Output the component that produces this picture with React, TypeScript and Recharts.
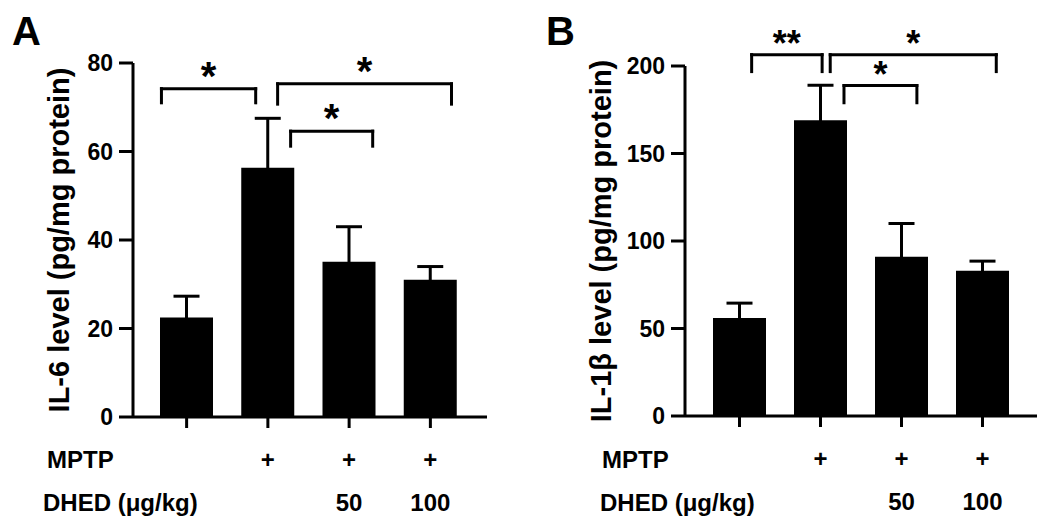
import React from 'react';
import { BarChart, Bar, XAxis, YAxis, ErrorBar, ReferenceLine } from 'recharts';

const groups = ['Control', 'MPTP', 'MPTP + DHED 50', 'MPTP + DHED 100'];
const mptpRow = ['', '+', '+', '+'];
const dhedRow = ['', '', '50', '100'];

const il6Mean = [22.5, 56.3, 35.1, 31];
const il6Err = [4.8, 11.2, 7.9, 3];
const il6Ticks = [0, 20, 40, 60, 80];

const il1bMean = [56, 169, 91, 83];
const il1bErr = [8.5, 20, 19, 5.5];
const il1bTicks = [0, 50, 100, 150, 200];

// significance brackets: x in group index units (0 = centre of first group), y in data units
const il6Sig = [
  { from: -0.31, to: 0.85, top: 74.2, foot: 71, mark: '*' },
  { from: 1.12, to: 3.26, top: 75.3, foot: 70.7, mark: '*' },
  { from: 1.28, to: 2.29, top: 64.6, foot: 61.2, mark: '*' },
];
const il1bSig = [
  { from: 0.15, to: 1.02, top: 206.5, foot: 196.8, mark: '**' },
  { from: 1.12, to: 3.17, top: 206.5, foot: 196.8, mark: '*' },
  { from: 1.29, to: 2.19, top: 188.8, foot: 179, mark: '*' },
];

const FONT = '"Liberation Sans", Arial, sans-serif';

const GroupTick = (props: any) => {
  const { x, y, payload } = props;
  const i = groups.indexOf(payload.value);
  return (
    <g fontFamily={FONT} fontWeight={700} fontSize={24} fill="#000">
      <text x={x} y={y + 40} textAnchor="middle">{mptpRow[i]}</text>
      <text x={x} y={y + 83} textAnchor="middle">{dhedRow[i]}</text>
    </g>
  );
};

function Panel({ mean, err, ticks, sig, yLabel, width, margin, axisWidth, pad, labelX, starSize }: any) {
  const data = groups.map((g, i) => ({ group: g, idx: i, value: mean[i], err: err[i] }));
  const max = ticks[ticks.length - 1];
  // the hidden numeric axis maps group index to the centre of each band
  const plotW = width - margin.left - margin.right - axisWidth;
  const half = (plotW - pad.left - pad.right) / groups.length / 2;
  const idxPad = { left: pad.left + half, right: pad.right + half };
  const line = { xAxisId: 's', ifOverflow: 'visible' as const, stroke: '#000', strokeWidth: 3, strokeLinecap: 'square' as const };
  return (
    <BarChart width={width} height={524} data={data} margin={margin}>
      <XAxis
        dataKey="group"
        padding={pad}
        axisLine={{ stroke: '#000', strokeWidth: 3 }}
        tickLine={{ stroke: '#000', strokeWidth: 3 }}
        tickSize={11}
        tickMargin={0}
        height={100}
        tick={<GroupTick />}
        interval={0}
      />
      <XAxis xAxisId="s" dataKey="idx" type="number" domain={[0, groups.length - 1]} padding={idxPad} hide allowDataOverflow />
      <YAxis
        domain={[0, max]}
        ticks={ticks}
        width={axisWidth}
        axisLine={{ stroke: '#000', strokeWidth: 3 }}
        tickLine={{ stroke: '#000', strokeWidth: 3 }}
        tickSize={14}
        tickMargin={6}
        tick={{ fill: '#000', fontSize: 23, fontWeight: 700, fontFamily: FONT }}
        label={{
          value: yLabel,
          angle: -90,
          position: 'insideLeft',
          offset: labelX,
          fill: '#000',
          fontSize: 29,
          fontWeight: 700,
          fontFamily: FONT,
          style: { textAnchor: 'middle' },
        }}
      />
      <Bar dataKey="value" fill="#000" barSize={53} isAnimationActive={false}>
        <ErrorBar dataKey="err" direction="y" width={13} strokeWidth={3} stroke="#000" />
      </Bar>
      {sig.map((s: any, k: number) => [
        <ReferenceLine key={`l${k}`} {...line} segment={[{ x: s.from, y: s.foot }, { x: s.from, y: s.top }]} />,
        <ReferenceLine key={`t${k}`} {...line} segment={[{ x: s.from, y: s.top }, { x: s.to, y: s.top }]}
          label={{ value: s.mark, position: 'top', offset: -1, fill: '#000', fontSize: starSize, fontWeight: 700, fontFamily: FONT }} />,
        <ReferenceLine key={`r${k}`} {...line} segment={[{ x: s.to, y: s.foot }, { x: s.to, y: s.top }]} />,
      ])}
    </BarChart>
  );
}

export default function App() {
  return (
    <div style={{ position: 'absolute', left: 0, top: 0, width: 1050, height: 524, background: '#fff', fontFamily: FONT }}>
      <div style={{ position: 'absolute', left: 0, top: 0 }}>
        <Panel
          mean={il6Mean} err={il6Err} ticks={il6Ticks} sig={il6Sig}
          yLabel="IL-6 level (pg/mg protein)"
          width={525} margin={{ top: 63, right: 38, bottom: 7, left: 0 }}
          axisWidth={133} pad={{ left: 13, right: 16 }} labelX={59} starSize={40}
        />
      </div>
      <div style={{ position: 'absolute', left: 525, top: 0 }}>
        <Panel
          mean={il1bMean} err={il1bErr} ticks={il1bTicks} sig={il1bSig}
          yLabel="IL-1β level (pg/mg protein)"
          width={525} margin={{ top: 66, right: 13, bottom: 8, left: 0 }}
          axisWidth={160} pad={{ left: 14, right: 14 }} labelX={76} starSize={36}
        />
      </div>
      <svg width={1050} height={524} style={{ position: 'absolute', left: 0, top: 0, pointerEvents: 'none' }}
        fontFamily={FONT} fontWeight={700} fill="#000">
        <text x={12} y={45} fontSize={40}>A</text>
        <text x={546} y={45} fontSize={40}>B</text>
        <text x={47} y={468} fontSize={24}>MPTP</text>
        <text x={43} y={511} fontSize={24}>DHED (μg/kg)</text>
        <text x={602} y={468} fontSize={24}>MPTP</text>
        <text x={600} y={511} fontSize={24}>DHED (μg/kg)</text>
      </svg>
    </div>
  );
}
